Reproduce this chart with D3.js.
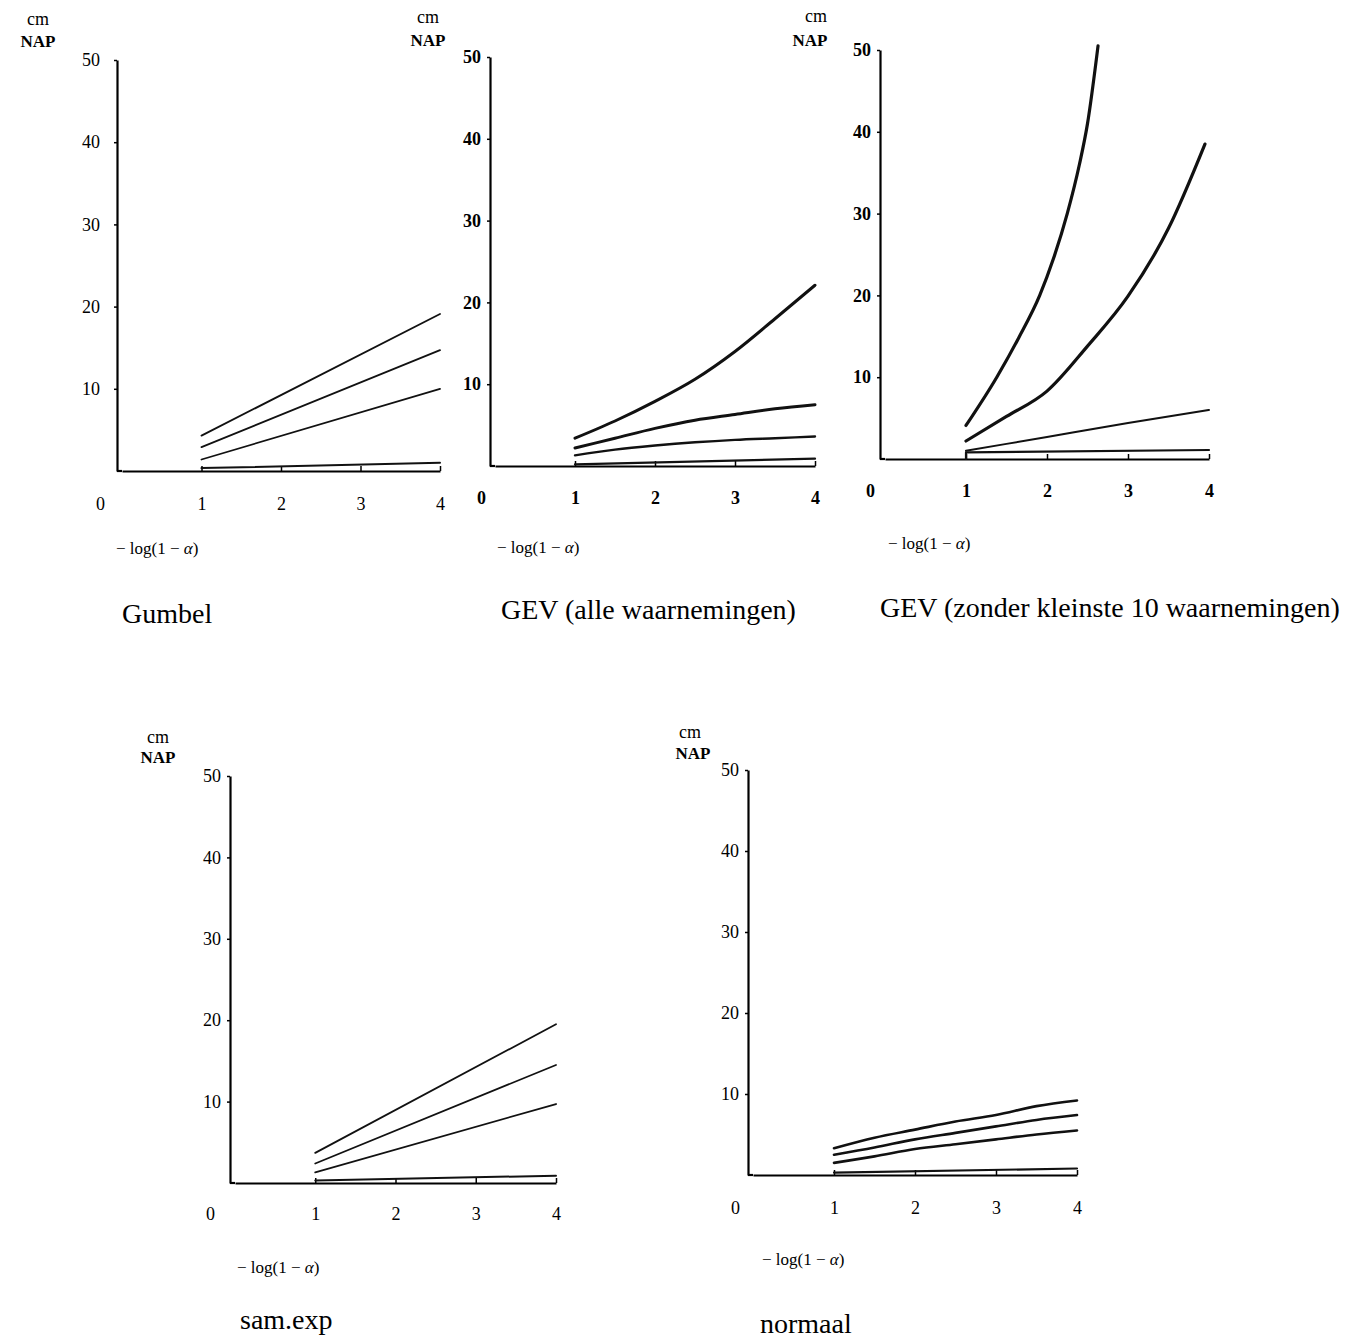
<!DOCTYPE html>
<html>
<head>
<meta charset="utf-8">
<script src="https://cdn.jsdelivr.net/npm/d3@7"></script>
<style>
  body { margin: 0; background: #fff; }
  svg { display: block; }
  text { font-family: "Liberation Serif", "DejaVu Serif", serif; }
</style>
</head>
<body>
<svg id="figuur" width="1354" height="1342"></svg>
<script>
// ticks shared by all panels
const xTicks = [0, 1, 2, 3, 4];
const yTicks = [10, 20, 30, 40, 50];

// Gumbel
const gumbelX = [1, 4];
const gumbelHoog = [4.3, 19.1];
const gumbelMidden = [2.9, 14.7];
const gumbelLaag = [1.4, 10.0];
const gumbelBodem = [0.35, 1.0];

// GEV (alle waarnemingen)
const gevAlleX = [1, 1.5, 2, 2.5, 3, 3.5, 4];
const gevAlleHoog = [3.4, 5.5, 7.9, 10.6, 14.0, 18.0, 22.1];
const gevAlleMidden = [2.2, 3.4, 4.6, 5.6, 6.3, 7.0, 7.5];
const gevAlleLaag = [1.3, 2.0, 2.5, 2.9, 3.2, 3.4, 3.6];
const gevAlleBodemX = [1, 4];
const gevAlleBodem = [0.2, 0.9];

// GEV (zonder kleinste 10 waarnemingen)
const gevZonderHoogX = [1, 1.38, 1.65, 1.91, 2.08, 2.25, 2.4, 2.5, 2.63];
const gevZonderHoog = [4.1, 10, 14.8, 20, 24.5, 30, 36, 41, 50.5];
const gevZonderMiddenX = [1, 1.5, 2, 2.5, 3, 3.5, 3.95];
const gevZonderMidden = [2.2, 5.2, 8.3, 13.8, 19.9, 28.2, 38.5];
const gevZonderLaagX = [1, 2, 3, 4];
const gevZonderLaag = [1.0, 2.7, 4.4, 6.0];
const gevZonderBodemX = [1, 1, 4];
const gevZonderBodem = [0, 0.8, 1.1];

// sam.exp
const samExpX = [1, 4];
const samExpHoog = [3.7, 19.5];
const samExpMidden = [2.4, 14.5];
const samExpLaag = [1.3, 9.7];
const samExpBodem = [0.3, 0.9];

// normaal
const normaalX = [1, 1.5, 2, 2.5, 3, 3.5, 4];
const normaalHoog = [3.3, 4.6, 5.6, 6.6, 7.4, 8.5, 9.2];
const normaalMidden = [2.5, 3.4, 4.4, 5.2, 6.0, 6.8, 7.4];
const normaalLaag = [1.5, 2.3, 3.2, 3.8, 4.4, 5.0, 5.5];
const normaalBodemX = [1, 4];
const normaalBodem = [0.3, 0.8];

const svg = d3.select("#figuur");

function buildPanel(p) {
    const g = svg.append("g");

    // scales: y axis sits a few px left of x = 0
    const x = d3.scaleLinear().domain([0, 4]).range([p.axisX + 5, p.x4]);
    const y = d3.scaleLinear().domain([0, 50]).range([p.y0, p.y50]);

    // y axis
    const yAxis = g.append("g")
        .attr("transform", "translate(" + p.axisX + ",0)")
        .call(d3.axisLeft(y).tickValues(yTicks).tickSizeInner(3).tickSizeOuter(0).tickPadding(p.yPad));
    yAxis.attr("font-family", null).attr("font-size", 18).attr("font-weight", p.bold ? 700 : 400);
    yAxis.select(".domain").attr("stroke-width", 2.2);
    yAxis.selectAll(".tick line").attr("stroke-width", 1.5);

    // x axis
    const xAxis = g.append("g")
        .attr("transform", "translate(0," + p.y0 + ")")
        .call(d3.axisBottom(x).tickValues(xTicks).tickFormat(d3.format("d"))
            .tickSizeInner(-5).tickSizeOuter(0).tickPadding(p.xPad));
    xAxis.attr("font-family", null).attr("font-size", 18).attr("font-weight", p.bold ? 700 : 400);
    xAxis.select(".domain").attr("stroke-width", 2.2);
    xAxis.selectAll(".tick line").attr("stroke-width", 1.5)
        .filter(d => d === 0).remove();
    // the 0 label sits left of the y axis
    xAxis.selectAll(".tick text").filter(d => d === 0)
        .attr("x", p.axisX - p.zeroGap - x(0));

    // close the corner between both axes
    g.append("line")
        .attr("x1", p.axisX).attr("x2", x(0))
        .attr("y1", p.y0).attr("y2", p.y0)
        .attr("stroke", "#000").attr("stroke-width", 2.2);

    // series
    p.series.forEach(function(s) {
        const pts = d3.zip(s.x, s.y);
        g.append("path")
            .datum(pts)
            .attr("fill", "none")
            .attr("stroke", "#111")
            .attr("stroke-width", s.w)
            .attr("stroke-linecap", "round")
            .attr("stroke-linejoin", "round")
            .attr("d", d3.line()
                .curve(s.smooth ? d3.curveMonotoneX : d3.curveLinear)
                .x(d => x(d[0]))
                .y(d => y(d[1]))
            );
    });

    // unit label
    g.append("text")
        .attr("x", p.cm[0]).attr("y", p.cm[1])
        .attr("text-anchor", "middle")
        .style("font-size", "18px")
        .text("cm");
    g.append("text")
        .attr("x", p.nap[0]).attr("y", p.nap[1])
        .attr("text-anchor", "middle")
        .style("font-size", "17px")
        .style("font-weight", 700)
        .text("NAP");

    // x axis label
    const lab = g.append("text")
        .attr("x", p.xLabel[0]).attr("y", p.xLabel[1])
        .style("font-size", "17px");
    lab.append("tspan").text("\u2212 log(1 \u2212 ");
    lab.append("tspan").style("font-style", "italic").text("\u03b1");
    lab.append("tspan").text(")");

    // title
    g.append("text")
        .attr("x", p.title[0]).attr("y", p.title[1])
        .style("font-size", "28px")
        .text(p.name);
}

buildPanel({
    name: "Gumbel",
    axisX: 117, x4: 440, y0: 471, y50: 60,
    yPad: 14, xPad: 26, zeroGap: 17, bold: false,
    cm: [38, 25], nap: [38, 47], xLabel: [116, 554], title: [122, 623],
    series: [
        {x: gumbelX, y: gumbelHoog, w: 1.8},
        {x: gumbelX, y: gumbelMidden, w: 1.8},
        {x: gumbelX, y: gumbelLaag, w: 1.8},
        {x: gumbelX, y: gumbelBodem, w: 2}
    ]
});

buildPanel({
    name: "GEV (alle waarnemingen)",
    axisX: 490, x4: 815, y0: 466, y50: 57,
    yPad: 6, xPad: 25, zeroGap: 9, bold: true,
    cm: [428, 23], nap: [428, 46], xLabel: [497, 553], title: [501, 619],
    series: [
        {x: gevAlleX, y: gevAlleHoog, w: 3, smooth: true},
        {x: gevAlleX, y: gevAlleMidden, w: 3, smooth: true},
        {x: gevAlleX, y: gevAlleLaag, w: 2.4, smooth: true},
        {x: gevAlleBodemX, y: gevAlleBodem, w: 2.2}
    ]
});

buildPanel({
    name: "GEV (zonder kleinste 10 waarnemingen)",
    axisX: 880, x4: 1209, y0: 459, y50: 50,
    yPad: 6, xPad: 25, zeroGap: 10, bold: true,
    cm: [816, 22], nap: [810, 46], xLabel: [888, 549], title: [880, 617],
    series: [
        {x: gevZonderHoogX, y: gevZonderHoog, w: 3.2, smooth: true},
        {x: gevZonderMiddenX, y: gevZonderMidden, w: 3.2, smooth: true},
        {x: gevZonderLaagX, y: gevZonderLaag, w: 2, smooth: true},
        {x: gevZonderBodemX, y: gevZonderBodem, w: 2.2}
    ]
});

buildPanel({
    name: "sam.exp",
    axisX: 230, x4: 556, y0: 1183, y50: 776,
    yPad: 6, xPad: 24, zeroGap: 20, bold: false,
    cm: [158, 743], nap: [158, 763], xLabel: [237, 1273], title: [240, 1329],
    series: [
        {x: samExpX, y: samExpHoog, w: 1.8},
        {x: samExpX, y: samExpMidden, w: 1.8},
        {x: samExpX, y: samExpLaag, w: 1.8},
        {x: samExpX, y: samExpBodem, w: 2}
    ]
});

buildPanel({
    name: "normaal",
    axisX: 748, x4: 1077, y0: 1175, y50: 770,
    yPad: 6, xPad: 26, zeroGap: 13, bold: false,
    cm: [690, 738], nap: [693, 759], xLabel: [762, 1265], title: [760, 1333],
    series: [
        {x: normaalX, y: normaalHoog, w: 2.6, smooth: true},
        {x: normaalX, y: normaalMidden, w: 2.6, smooth: true},
        {x: normaalX, y: normaalLaag, w: 2.6, smooth: true},
        {x: normaalBodemX, y: normaalBodem, w: 2.2}
    ]
});
</script>
</body>
</html>
